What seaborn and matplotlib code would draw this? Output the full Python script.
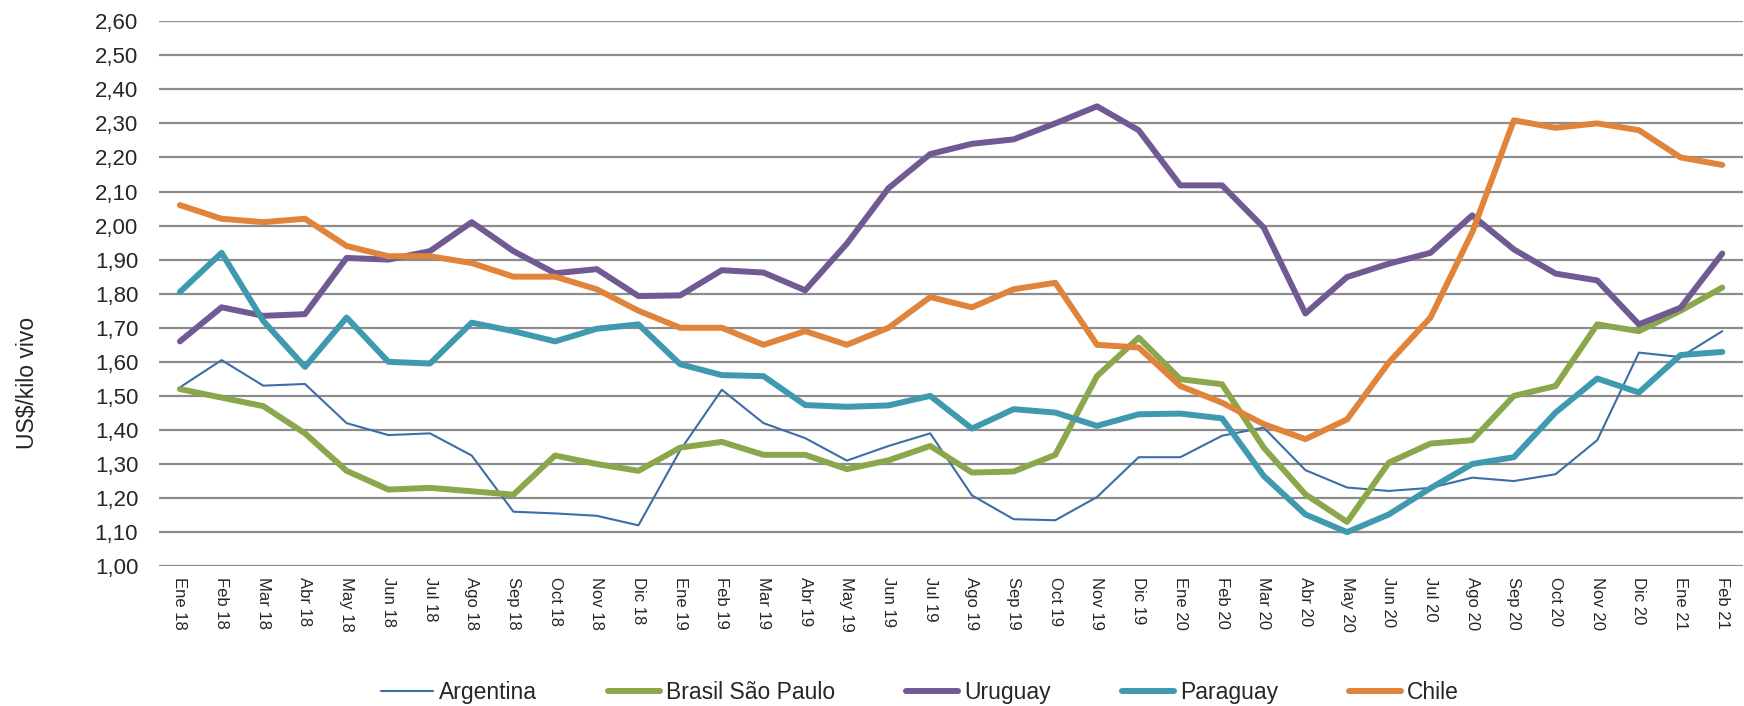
import numpy as np
import pandas as pd
import matplotlib
matplotlib.use('Agg')
import matplotlib.pyplot as plt
import seaborn as sns
from matplotlib.ticker import FuncFormatter, MultipleLocator

meses = ['Ene 18', 'Feb 18', 'Mar 18', 'Abr 18', 'May 18', 'Jun 18', 'Jul 18', 'Ago 18',
         'Sep 18', 'Oct 18', 'Nov 18', 'Dic 18',
         'Ene 19', 'Feb 19', 'Mar 19', 'Abr 19', 'May 19', 'Jun 19', 'Jul 19', 'Ago 19',
         'Sep 19', 'Oct 19', 'Nov 19', 'Dic 19',
         'Ene 20', 'Feb 20', 'Mar 20', 'Abr 20', 'May 20', 'Jun 20', 'Jul 20', 'Ago 20',
         'Sep 20', 'Oct 20', 'Nov 20', 'Dic 20',
         'Ene 21', 'Feb 21']

argentina = [1.525, 1.605, 1.53, 1.535, 1.42, 1.385, 1.39, 1.325, 1.16, 1.155, 1.148, 1.12,
             1.34, 1.518, 1.42, 1.376, 1.31, 1.353, 1.39, 1.208, 1.138, 1.135, 1.203, 1.32,
             1.32, 1.383, 1.407, 1.282, 1.231, 1.221, 1.23, 1.26, 1.25, 1.27, 1.37, 1.627,
             1.614, 1.69]
brasil = [1.52, 1.495, 1.47, 1.39, 1.28, 1.225, 1.23, 1.22, 1.21, 1.325, 1.30, 1.28,
          1.348, 1.365, 1.327, 1.327, 1.285, 1.311, 1.353, 1.275, 1.278, 1.327, 1.558, 1.671,
          1.549, 1.534, 1.348, 1.211, 1.13, 1.304, 1.36, 1.37, 1.50, 1.529, 1.71, 1.69,
          1.75, 1.818]
uruguay = [1.66, 1.76, 1.735, 1.74, 1.905, 1.90, 1.925, 2.01, 1.925, 1.86, 1.872, 1.793,
           1.795, 1.869, 1.862, 1.81, 1.947, 2.11, 2.21, 2.24, 2.253, 2.30, 2.35, 2.28,
           2.118, 2.118, 1.994, 1.742, 1.849, 1.888, 1.92, 2.03, 1.93, 1.859, 1.839, 1.71,
           1.759, 1.918]
paraguay = [1.805, 1.92, 1.72, 1.585, 1.73, 1.60, 1.595, 1.715, 1.69, 1.66, 1.697, 1.71,
            1.593, 1.561, 1.558, 1.473, 1.468, 1.472, 1.50, 1.404, 1.461, 1.451, 1.412, 1.446,
            1.448, 1.434, 1.265, 1.152, 1.10, 1.152, 1.229, 1.30, 1.32, 1.451, 1.551, 1.51,
            1.62, 1.629]
chile = [2.06, 2.02, 2.01, 2.02, 1.94, 1.91, 1.91, 1.89, 1.85, 1.85, 1.813, 1.75,
         1.70, 1.70, 1.65, 1.69, 1.65, 1.70, 1.79, 1.76, 1.813, 1.832, 1.65, 1.642,
         1.529, 1.48, 1.417, 1.373, 1.431, 1.598, 1.73, 1.98, 2.309, 2.287, 2.30, 2.28,
         2.20, 2.178]

series = {
    'Argentina': argentina,
    'Brasil São Paulo': brasil,
    'Uruguay': uruguay,
    'Paraguay': paraguay,
    'Chile': chile,
}
colores = {
    'Argentina': '#3D6DA8',
    'Brasil São Paulo': '#8AA84B',
    'Uruguay': '#715A93',
    'Paraguay': '#3F9AB0',
    'Chile': '#E0843B',
}
grosor = {'Argentina': 1.5, 'Brasil São Paulo': 4.3, 'Uruguay': 4.3,
          'Paraguay': 4.3, 'Chile': 4.3}

sns.set_style('white')
plt.rcParams['font.family'] = ['Liberation Sans', 'DejaVu Sans']

fig = plt.figure(figsize=(17.44, 7.06), dpi=100)
ax = fig.add_axes([0.0912, 0.198, 0.9083, 0.772])

idx = np.arange(len(meses))
for nombre, valores in series.items():
    df = pd.DataFrame({'mes': idx, 'valor': valores})
    sns.lineplot(data=df, x='mes', y='valor', ax=ax, color=colores[nombre],
                 linewidth=grosor[nombre], label=nombre, solid_capstyle='round',
                 solid_joinstyle='round')

ax.set_xlim(-0.5, len(meses) - 0.5)
ax.set_ylim(1.0, 2.6)
ax.yaxis.set_major_locator(MultipleLocator(0.1))
ax.yaxis.set_major_formatter(FuncFormatter(lambda v, p: f'{v:.2f}'.replace('.', ',')))
ax.set_xticks(idx)
ax.set_xticklabels(meses, rotation=270, fontsize=12)
ax.tick_params(axis='y', labelsize=16, length=0, pad=15)
ax.tick_params(axis='x', length=0, pad=8)
ax.grid(axis='y', color='#8C8C8C', linewidth=1.6)
ax.grid(axis='x', visible=False)
ax.set_axisbelow(True)
for s in ax.spines.values():
    s.set_visible(False)
ax.set_xlabel('')
ax.set_ylabel('')
fig.text(0.016, 0.4575, 'US$/kilo vivo', rotation=90, fontsize=16.5,
         ha='center', va='center')

ax.legend(loc='center', bbox_to_anchor=(0.5275, 0.019), bbox_transform=fig.transFigure,
          ncol=5, frameon=False, fontsize=16.5, handlelength=2.27,
          columnspacing=3.1, handletextpad=0.26)

fig.savefig('out.png', dpi=100)
